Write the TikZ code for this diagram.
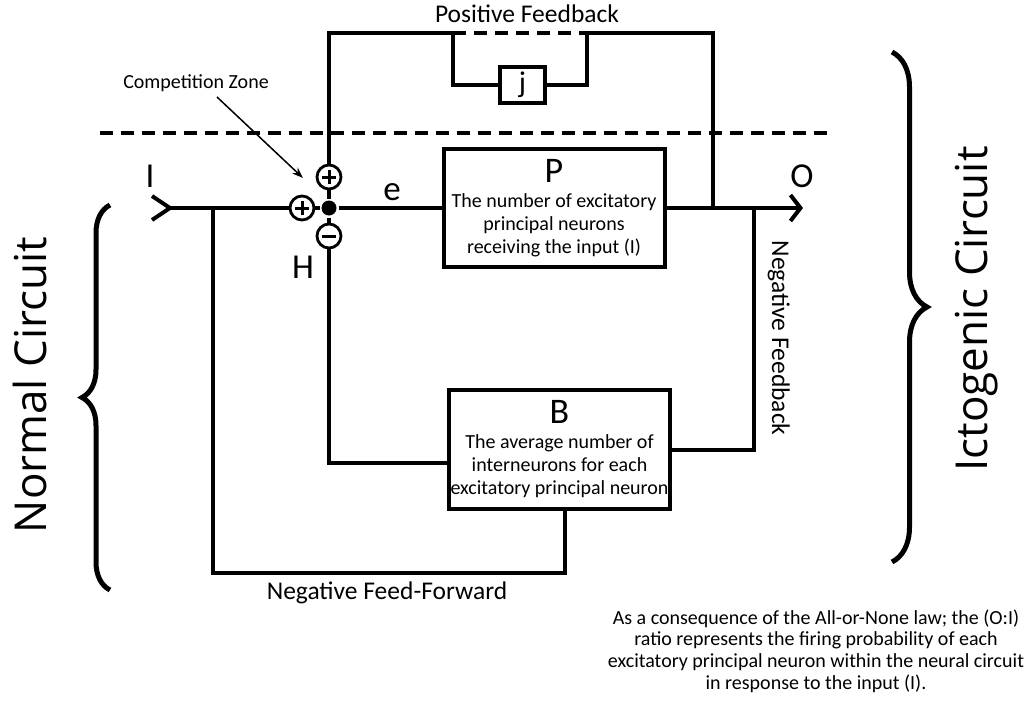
\documentclass[tikz,border=0pt]{standalone}
\usepackage{fontspec}
\setmainfont{Carlito}
\newfontfamily\sidefont{Open Sans}
\usetikzlibrary{arrows.meta,decorations.pathreplacing,positioning}

\begin{document}
\begin{tikzpicture}[x=1pt,y=-1pt,line width=4pt,
    block/.style={draw,align=center,font=\fontsize{20}{23}\selectfont,inner sep=0pt},
    sign/.style={draw,circle,fill=white,line width=2.8pt,minimum size=24pt,inner sep=0pt},
    plus/.style={sign,path picture={\draw[line width=3pt]
        ([xshift=-7pt]path picture bounding box.center) -- ([xshift=7pt]path picture bounding box.center)
        ([yshift=-7pt]path picture bounding box.center) -- ([yshift=7pt]path picture bounding box.center);}},
    minus/.style={sign,path picture={\draw[line width=3pt]
        ([xshift=-7pt]path picture bounding box.center) -- ([xshift=7pt]path picture bounding box.center);}},
    sym/.style={font=\fontsize{35}{35}\selectfont,anchor=base},
    caption/.style={font=\fontsize{25.5}{28}\selectfont,anchor=base},
    cut/.style={dash pattern=on 13pt off 8pt},
    bracket/.style={line width=5pt,decorate,decoration={brace,amplitude=#1}},
    side/.style={font=\sidefont\fontsize{44}{44}\selectfont,anchor=base,rotate=90}]
    \useasboundingbox (0,0) rectangle (1031,704);
    % blocks
    \node[block,minimum width=221pt,minimum height=118pt] (P) at (554,208)
        {{\fontsize{36}{36}\selectfont P}\\[2pt] The number of excitatory\\ principal neurons\\ receiving the input (I)};
    \node[block,minimum width=221pt,minimum height=119pt] (B) at (559.5,449.5)
        {{\fontsize{36}{36}\selectfont B}\\[2pt] The average number of\\ interneurons for each\\ excitatory principal neuron};
    \node[block,minimum width=45pt,minimum height=36pt,font=\fontsize{30}{30}\selectfont] (j) at (522.5,85) {j};
    % competition zone
    \node[plus] (pl) at (302,208) {};
    \node[circle,fill,inner sep=0pt,minimum size=15pt] (dot) at (329,208) {};
    \node[plus] (pt) at (329,177) {};
    \node[minus] (mn) at (329,236) {};
    \coordinate (in) at (170,208);
    \coordinate (O) at (803,208);
    \coordinate (ff) at (213,208);
    \coordinate (pf) at (713,208);
    \coordinate (nf) at (754,208);
    \coordinate (top) at (329,33);
    \coordinate (jl) at (453,33);
    \coordinate (jr) at (587,33);
    \coordinate (cztip) at (303,178);
    % main line
    \draw (in) ++(-18,-12) -- (in) -- ++(-18,12);
    \draw (in) -- (pl) -- (dot) -- (P);
    \draw[-{Straight Barb[length=10pt,width=26pt]}] (P) -- (O);
    \draw (dot) -- (pt);
    \draw (dot) -- (mn);
    % positive feedback
    \draw (pt) -- (top) -- (jl) -- (jl |- j) -- (j);
    \draw (j) -- (jr |- j) -- (jr) -- (top -| pf) -- (pf);
    \draw[cut] (jl) -- (jr);
    \draw[cut] (100,133) -- (828,133);
    % negative feedback, feed-forward
    \draw (nf) |- (B);
    \draw (mn) |- ([yshift=-13pt]B.west);
    \draw (ff) -- ++(0,365) -| ([xshift=5pt]B.south);
    % labels
    \node[sym] (li) at (150,187) {I};
    \node[sym] (lo) at (802,187) {O};
    \node[sym] (le) at (392,200) {e};
    \node[sym] (lh) at (303,278) {H};
    \node[caption] (pfb) at (527,22) {Positive Feedback};
    \node[caption,rotate=-90] (nfb) at (772,338) {Negative Feedback};
    \node[caption] (nff) at (387,599) {Negative Feed-Forward};
    \node[font=\fontsize{20}{23}\selectfont,anchor=base] (cz) at (196,88) {Competition Zone};
    \draw[line width=1.5pt,-{Stealth[length=11pt,width=8pt]}] ([shift={(21pt,-9pt)}]cz.base) -- (cztip);
    \node[font=\fontsize{20}{21.7}\selectfont,align=center] (note) at (816,651)
        {As a consequence of the All-or-None law; the (O:I)\\ ratio represents the firing probability of each\\
         excitatory principal neuron within the neural circuit\\ in response to the input (I).};
    % circuits
    \draw[bracket=28pt] (110,590) -- (110,205);
    \draw[bracket=35pt] (892,52) -- (892,562);
    \node[side] (nc) at (46,385) {Normal Circuit};
    \node[side] (ic) at (987,309) {Ictogenic Circuit};
\end{tikzpicture}
\end{document}
